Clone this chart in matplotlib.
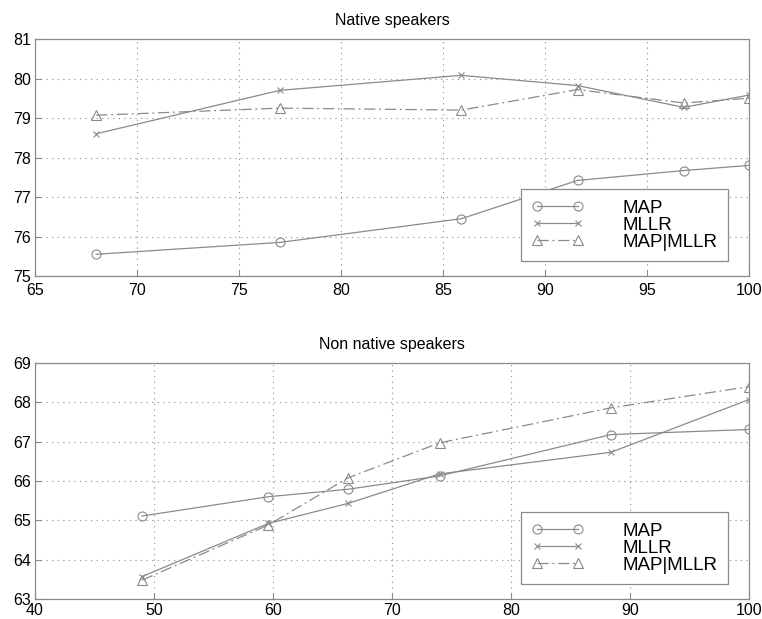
import matplotlib
matplotlib.use("Agg")
import matplotlib.pyplot as plt

plt.rcParams['font.family'] = ['Liberation Sans', 'DejaVu Sans']

# Native speakers
nat_x = [68, 77, 85.9, 91.6, 96.8, 100]
nat_map = [75.55, 75.85, 76.45, 77.42, 77.67, 77.8]
nat_mllr = [78.6, 79.7, 80.08, 79.82, 79.27, 79.58]
nat_both = [79.07, 79.25, 79.2, 79.72, 79.38, 79.5]

# Non native speakers
non_x = [49, 59.6, 66.3, 74.0, 88.4, 100]
non_map = [65.11, 65.6, 65.79, 66.13, 67.18, 67.31]
non_mllr = [63.57, 64.92, 65.43, 66.18, 66.73, 68.07]
non_both = [63.48, 64.88, 66.08, 66.97, 67.86, 68.4]

labels = ['MAP', 'MLLR', 'MAP|MLLR']
titles = ['Native speakers', 'Non native speakers']

gray = '#8a8a8a'

fig = plt.figure(figsize=(7.62, 6.19), dpi=100)
ax1 = fig.add_axes([35/762, 1-276/619, 714/762, 237/619])
ax2 = fig.add_axes([35/762, 1-599/619, 714/762, 236/619])


def draw(ax, x, a, b, c, xlim, ylim, xt, yt, title, xpad):
    ax.plot(x, a, color=gray, lw=0.9, marker='o', ms=6.5, mfc='none', mec=gray, mew=0.8, label=labels[0])
    ax.plot(x, b, color=gray, lw=0.9, marker='x', ms=4.5, mec=gray, mew=0.8, label=labels[1])
    ax.plot(x, c, color=gray, lw=0.9, ls=(0, (9, 3, 1.5, 3)), marker='^', ms=7, mfc='none', mec=gray, mew=0.8, label=labels[2])
    ax.set_xlim(*xlim)
    ax.set_ylim(*ylim)
    ax.set_xticks(xt)
    ax.set_yticks(yt)
    ax.grid(True, ls=(0, (1, 4)), color=gray, lw=0.8)
    for s in ax.spines.values():
        s.set_color(gray)
        s.set_linewidth(0.9)
    ax.tick_params(direction='in', length=4, color=gray, labelsize=11.5)
    ax.tick_params(axis='x', pad=xpad)
    ax.tick_params(axis='y', pad=3)
    ax.set_title(title, fontsize=11.5, pad=10)
    leg = ax.legend(loc='lower right', bbox_to_anchor=(0.9706, 0.063), numpoints=2,
                    handlelength=2.75, handletextpad=2.1, labelspacing=0.0,
                    borderpad=0.55, fontsize=13.5, fancybox=False, framealpha=1,
                    edgecolor=gray, borderaxespad=0)
    leg.get_frame().set_linewidth(0.9)


draw(ax1, nat_x, nat_map, nat_mllr, nat_both, (65, 100), (75, 81),
     range(65, 101, 5), range(75, 82), titles[0], 5)
draw(ax2, non_x, non_map, non_mllr, non_both, (40, 100), (63, 69),
     range(40, 101, 10), range(63, 70), titles[1], 3)

fig.savefig('out.png', dpi=100)
